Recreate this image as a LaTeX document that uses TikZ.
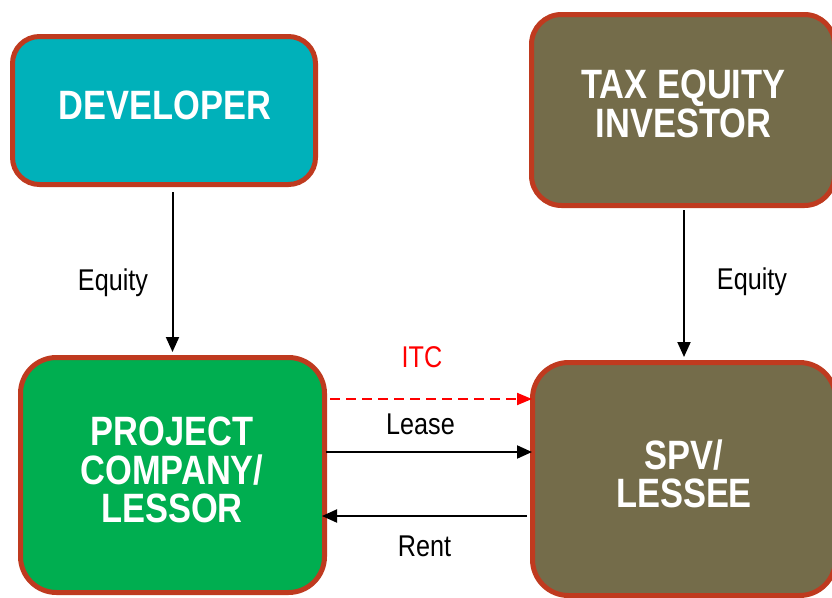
\documentclass[tikz,border=0pt]{standalone}
\usepackage{fontspec}
\setmainfont{Liberation Sans}[FakeStretch=0.84]
\usetikzlibrary{arrows.meta,calc}
\definecolor{bordercol}{RGB}{191,58,31}
\definecolor{tealcol}{RGB}{0,177,186}
\definecolor{greencol}{RGB}{0,174,80}
\definecolor{olivecol}{RGB}{116,108,74}
\tikzset{
  box/.style={draw=bordercol, line width=5pt, rectangle, inner sep=0pt},
  boxtext/.style={text=white, font=\fontsize{41}{38.5}\selectfont\bfseries, align=center, inner sep=0pt},
  lbl/.style={font=\fontsize{30}{32}\selectfont, anchor=base, inner sep=0pt},
  arr/.style={draw=black, line width=2pt, -{Triangle[length=15pt,width=13pt]}},
  itcarr/.style={draw=red, line width=2pt, dash pattern=on 10pt off 6pt, -{Triangle[length=15pt,width=12pt]}}
}
\begin{document}
\begin{tikzpicture}[x=1pt,y=-1pt]
\useasboundingbox (0,0) rectangle (832,597);
\fill[white] (0,0) rectangle (832,597);
% boxes
\node[box, fill=tealcol, rounded corners=27pt, minimum width=303pt, minimum height=148pt] (dev) at (164,110.5) {};
\node[box, fill=olivecol, rounded corners=30pt, minimum width=303pt, minimum height=191pt] (tax) at (683,110) {};
\node[box, fill=greencol, rounded corners=36pt, minimum width=304pt, minimum height=235pt] (proj) at (172.5,475) {};
\node[box, fill=olivecol, rounded corners=36pt, minimum width=303pt, minimum height=233pt] (spv) at (684,479) {};
% box texts
\node[boxtext] (devt) at (165,105) {DEVELOPER};
\node[boxtext] (taxt) at (683.5,104) {TAX EQUITY\\INVESTOR};
\node[boxtext] (projt) at (172,470) {PROJECT\\COMPANY/\\LESSOR};
\node[boxtext] (spvt) at (684,474) {SPV/\\LESSEE};
% connectors
\draw[arr, shorten <=5pt, shorten >=3pt] (dev.south -| proj.north) -- (proj.north);
\draw[arr, shorten <=2pt, shorten >=3pt] (tax.south -| spv.north) -- (spv.north);
\coordinate (yitc) at (0,399);
\coordinate (ylease) at (0,452);
\coordinate (yrent) at (0,516);
\draw[itcarr, shorten <=3pt, shorten >=-2pt] (proj.east |- yitc) -- (spv.west |- yitc);
\draw[arr, shorten <=-1pt, shorten >=-2pt] (proj.east |- ylease) -- (spv.west |- ylease);
\draw[arr, shorten <=3pt, shorten >=-5pt] (spv.west |- yrent) -- (proj.east |- yrent);
% labels
\node[lbl] (eq1) at (113,290) {Equity};
\node[lbl] (eq2) at (752,289) {Equity};
\node[lbl, text=red] (itc) at (422,367) {ITC};
\node[lbl] (lease) at (420.5,434) {Lease};
\node[lbl] (rent) at (424.5,556) {Rent};
\end{tikzpicture}
\end{document}
